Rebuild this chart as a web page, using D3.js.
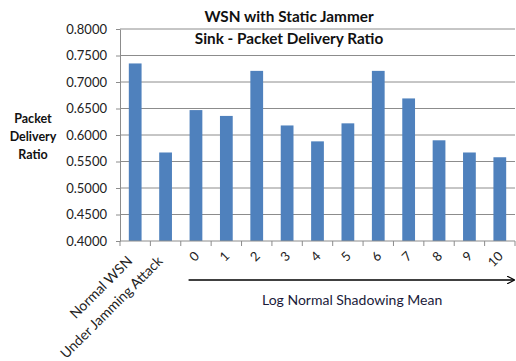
<!DOCTYPE html>
<html><head><meta charset="utf-8">
<script src="https://cdn.jsdelivr.net/npm/d3@7"></script>
<style>body{margin:0;background:#fff}svg{display:block}text{font-family:Lato,"Open Sans",sans-serif}</style>
</head><body>
<script>
const categories = ["Normal WSN","Under Jamming Attack","0","1","2","3","4","5","6","7","8","9","10"];
const values = [0.735,0.567,0.647,0.636,0.721,0.618,0.588,0.622,0.721,0.669,0.590,0.567,0.558];
const yTicks = [0.40,0.45,0.50,0.55,0.60,0.65,0.70,0.75,0.80];
const titleLines = ["WSN with Static Jammer","Sink - Packet Delivery Ratio"];
const yTitle = ["Packet","Delivery","Ratio"];
const xTitle = "Log Normal Shadowing  Mean";

const W=516,H=361;
const svg=d3.select("body").append("svg").attr("width",W).attr("height",H);
const x=d3.scaleBand().domain(categories).range([120,515]).paddingInner(0.58).paddingOuter(0.29);
const y=d3.scaleLinear().domain([0.4,0.8]).range([241,29]);

// gridlines
svg.append("g").selectAll("line").data(yTicks.slice(1)).join("line")
  .attr("x1",120).attr("x2",515).attr("y1",d=>y(d)).attr("y2",d=>y(d))
  .attr("stroke","#8c8c8c").attr("stroke-width",1);

// bars
svg.append("g").selectAll("rect").data(values).join("rect")
  .attr("x",(d,i)=>x(categories[i])).attr("width",x.bandwidth())
  .attr("y",d=>y(d)).attr("height",d=>y(0.4)-y(d)).attr("fill","#4F81BD");

// y axis
const ya=svg.append("g").attr("transform","translate(120,0)")
  .call(d3.axisLeft(y).tickValues(yTicks).tickFormat(d3.format(".4f")).tickSize(4).tickSizeOuter(0));
ya.select(".domain").attr("stroke","#8c8c8c");
ya.selectAll(".tick line").attr("stroke","#8c8c8c");
ya.selectAll(".tick text").attr("font-size",13).attr("fill","#222").attr("x",-13).style("font-family","Lato");

// x axis
const step=x.step();
const xa=svg.append("g").attr("transform","translate(0,241)");
xa.append("line").attr("x1",120).attr("x2",515).attr("stroke","#8c8c8c");
const tickPos=d3.range(categories.length+1).map(i=>120+i*step);
xa.selectAll("line.t").data(tickPos).join("line").attr("class","t")
  .attr("x1",d=>d).attr("x2",d=>d).attr("y1",0).attr("y2",5).attr("stroke","#8c8c8c");
xa.selectAll("text").data(categories).join("text")
  .attr("transform",(d,i)=>{const cx=x(d)+x.bandwidth()/2;return i<2?`translate(${cx-2},21) rotate(-45)`:`translate(${cx+4},16) rotate(-45)`;})
  .attr("text-anchor","end").attr("font-size",(d,i)=>i<2?14:13).attr("fill","#222").text(d=>d);

// arrow
svg.append("defs").append("marker").attr("id","ah").attr("viewBox","0 0 10 10").attr("refX",9).attr("refY",5)
  .attr("markerWidth",8).attr("markerHeight",8).attr("markerUnits","userSpaceOnUse").attr("orient","auto")
  .append("path").attr("d","M0,0 L10,5 L0,10").attr("fill","none").attr("stroke","#000").attr("stroke-width",1.5);
svg.append("line").attr("x1",x("0")-1).attr("x2",514).attr("y1",280).attr("y2",280)
  .attr("stroke","#000").attr("stroke-width",1.3).attr("marker-end","url(#ah)");
svg.append("text").attr("x",262).attr("y",305).attr("font-size",14).attr("fill","#1a1a3a").text(xTitle);

// titles
svg.selectAll("text.title").data(titleLines).join("text").attr("class","title")
  .attr("x",289).attr("y",(d,i)=>22+i*22).attr("text-anchor","middle")
  .attr("font-size",15.3).attr("font-weight","bold").attr("fill","#111").text(d=>d);
svg.selectAll("text.yt").data(yTitle).join("text").attr("class","yt")
  .attr("x",33).attr("y",(d,i)=>123+i*18).attr("text-anchor","middle")
  .attr("font-size",12.5).attr("font-weight","bold").attr("fill","#111").text(d=>d);
</script>
</body></html>
